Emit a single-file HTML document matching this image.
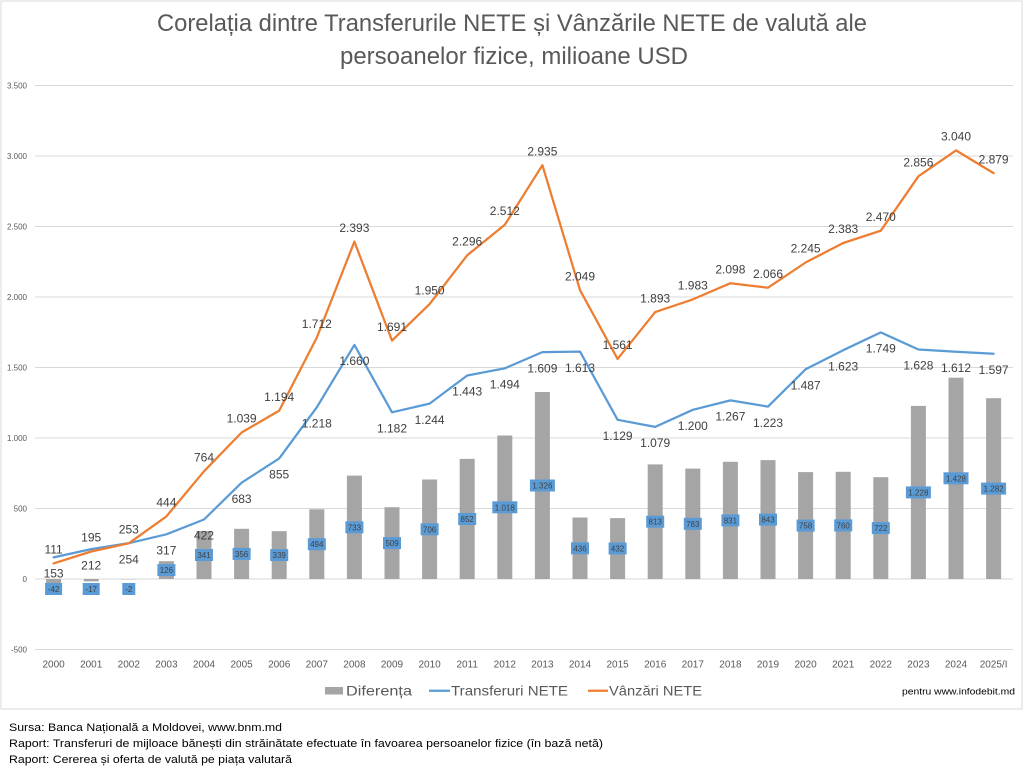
<!DOCTYPE html>
<html>
<head>
<meta charset="utf-8">
<style>
html,body{margin:0;padding:0;background:#fff;}
svg{display:block;}
text{font-family:"Liberation Sans",Arial,sans-serif;}
</style>
</head>
<body>
<svg width="1024" height="772" viewBox="0 0 1024 772" xmlns="http://www.w3.org/2000/svg">
<rect x="0" y="0" width="1024" height="772" fill="#fff"/>
<!-- chart border -->
<rect x="1" y="1" width="1021" height="708" fill="#fff" stroke="#d9d9d9" stroke-width="1"/>

<!-- title -->
<text x="512" y="31" font-size="24" fill="#595959" text-anchor="middle" textLength="710" lengthAdjust="spacingAndGlyphs">Corelația dintre Transferurile NETE și Vânzările NETE de valută ale</text>
<text x="514" y="64" font-size="24" fill="#595959" text-anchor="middle" textLength="348" lengthAdjust="spacingAndGlyphs">persoanelor fizice, milioane USD</text>

<!-- gridlines -->
<g stroke="#d9d9d9" stroke-width="1">
<line x1="35" y1="85.5" x2="1013" y2="85.5"/>
<line x1="35" y1="156" x2="1013" y2="156"/>
<line x1="35" y1="226.5" x2="1013" y2="226.5"/>
<line x1="35" y1="297" x2="1013" y2="297"/>
<line x1="35" y1="367.5" x2="1013" y2="367.5"/>
<line x1="35" y1="438" x2="1013" y2="438"/>
<line x1="35" y1="508.5" x2="1013" y2="508.5"/>
<line x1="35" y1="579" x2="1013" y2="579"/>
<line x1="35" y1="649.5" x2="1013" y2="649.5"/>
</g>

<!-- y axis labels -->
<g font-size="8" fill="#595959" text-anchor="end">
<text x="27" y="88.5">3.500</text>
<text x="27" y="159">3.000</text>
<text x="27" y="229.5">2.500</text>
<text x="27" y="300">2.000</text>
<text x="27" y="370.5">1.500</text>
<text x="27" y="441">1.000</text>
<text x="27" y="511.5">500</text>
<text x="27" y="582">0</text>
<text x="27" y="652.5">-500</text>
</g>

<!-- x axis labels -->
<g font-size="10" fill="#595959" text-anchor="middle">
<text x="53.6" y="667.5">2000</text>
<text x="91.2" y="667.5">2001</text>
<text x="128.8" y="667.5">2002</text>
<text x="166.4" y="667.5">2003</text>
<text x="204.0" y="667.5">2004</text>
<text x="241.6" y="667.5">2005</text>
<text x="279.2" y="667.5">2006</text>
<text x="316.8" y="667.5">2007</text>
<text x="354.4" y="667.5">2008</text>
<text x="392.0" y="667.5">2009</text>
<text x="429.6" y="667.5">2010</text>
<text x="467.2" y="667.5">2011</text>
<text x="504.8" y="667.5">2012</text>
<text x="542.4" y="667.5">2013</text>
<text x="580.0" y="667.5">2014</text>
<text x="617.6" y="667.5">2015</text>
<text x="655.2" y="667.5">2016</text>
<text x="692.8" y="667.5">2017</text>
<text x="730.4" y="667.5">2018</text>
<text x="768.0" y="667.5">2019</text>
<text x="805.6" y="667.5">2020</text>
<text x="843.2" y="667.5">2021</text>
<text x="880.8" y="667.5">2022</text>
<text x="918.4" y="667.5">2023</text>
<text x="956.0" y="667.5">2024</text>
<text x="993.6" y="667.5">2025/I</text>
</g>

<!-- bars -->
<g fill="#a5a5a5">
<rect x="46.1" y="579" width="15" height="5.9"/>
<rect x="83.7" y="579" width="15" height="2.4"/>
<rect x="121.3" y="579" width="15" height="0.3"/>
<rect x="158.9" y="561.2" width="15" height="17.8"/>
<rect x="196.5" y="530.9" width="15" height="48.1"/>
<rect x="234.1" y="528.8" width="15" height="50.2"/>
<rect x="271.7" y="531.2" width="15" height="47.8"/>
<rect x="309.3" y="509.3" width="15" height="69.7"/>
<rect x="346.9" y="475.6" width="15" height="103.4"/>
<rect x="384.5" y="507.2" width="15" height="71.8"/>
<rect x="422.1" y="479.5" width="15" height="99.5"/>
<rect x="459.7" y="458.9" width="15" height="120.1"/>
<rect x="497.3" y="435.5" width="15" height="143.5"/>
<rect x="534.9" y="392.0" width="15" height="187.0"/>
<rect x="572.5" y="517.5" width="15" height="61.5"/>
<rect x="610.1" y="518.1" width="15" height="60.9"/>
<rect x="647.7" y="464.4" width="15" height="114.6"/>
<rect x="685.3" y="468.6" width="15" height="110.4"/>
<rect x="722.9" y="461.8" width="15" height="117.2"/>
<rect x="760.5" y="460.1" width="15" height="118.9"/>
<rect x="798.1" y="472.1" width="15" height="106.9"/>
<rect x="835.7" y="471.8" width="15" height="107.2"/>
<rect x="873.3" y="477.2" width="15" height="101.8"/>
<rect x="910.9" y="405.9" width="15" height="173.1"/>
<rect x="948.5" y="377.7" width="15" height="201.3"/>
<rect x="986.1" y="398.2" width="15" height="180.8"/>
</g>

<!-- lines -->
<polyline fill="none" stroke="#5b9bd5" stroke-width="2.25" stroke-linejoin="round" stroke-linecap="round" points="53.6,557.4 91.2,549.1 128.8,543.2 166.4,534.3 204.0,519.5 241.6,482.7 279.2,458.4 316.8,407.3 354.4,344.9 392.0,412.3 429.6,403.6 467.2,375.5 504.8,368.3 542.4,352.1 580.0,351.6 617.6,419.8 655.2,426.9 692.8,409.8 730.4,400.4 768.0,406.6 805.6,369.3 843.2,350.2 880.8,332.4 918.4,349.5 956.0,351.7 993.6,353.8"/>
<polyline fill="none" stroke="#ed7d31" stroke-width="2.25" stroke-linejoin="round" stroke-linecap="round" points="53.6,563.4 91.2,551.5 128.8,543.3 166.4,516.4 204.0,471.3 241.6,432.5 279.2,410.6 316.8,337.6 354.4,241.6 392.0,340.6 429.6,304.1 467.2,255.3 504.8,224.8 542.4,165.2 580.0,290.1 617.6,358.9 655.2,312.1 692.8,299.4 730.4,283.2 768.0,287.7 805.6,262.5 843.2,243.0 880.8,230.7 918.4,176.3 956.0,150.4 993.6,173.1"/>

<!-- bar label boxes -->
<g fill="#5b9bd5">
<rect x="45.1" y="583" width="17" height="12"/>
<rect x="82.7" y="583" width="17" height="12"/>
<rect x="122.3" y="583" width="13" height="12"/>
<rect x="157.4" y="564.1" width="18" height="12"/>
<rect x="195.0" y="549.0" width="18" height="12"/>
<rect x="232.6" y="547.9" width="18" height="12"/>
<rect x="270.2" y="549.1" width="18" height="12"/>
<rect x="307.8" y="538.2" width="18" height="12"/>
<rect x="345.4" y="521.3" width="18" height="12"/>
<rect x="383.0" y="537.1" width="18" height="12"/>
<rect x="420.6" y="523.3" width="18" height="12"/>
<rect x="458.2" y="513.0" width="18" height="12"/>
<rect x="492.3" y="501.3" width="25" height="12"/>
<rect x="529.9" y="479.5" width="25" height="12"/>
<rect x="571.0" y="542.3" width="18" height="12"/>
<rect x="608.6" y="542.5" width="18" height="12"/>
<rect x="646.2" y="515.7" width="18" height="12"/>
<rect x="683.8" y="517.8" width="18" height="12"/>
<rect x="721.4" y="514.4" width="18" height="12"/>
<rect x="759.0" y="513.6" width="18" height="12"/>
<rect x="796.6" y="519.6" width="18" height="12"/>
<rect x="834.2" y="519.4" width="18" height="12"/>
<rect x="871.8" y="522.1" width="18" height="12"/>
<rect x="905.9" y="486.4" width="25" height="12"/>
<rect x="943.5" y="472.3" width="25" height="12"/>
<rect x="981.1" y="482.6" width="25" height="12"/>
</g>
<g font-size="8" fill="#404040" text-anchor="middle">
<text x="53.6" y="592">-42</text>
<text x="91.2" y="592">-17</text>
<text x="128.8" y="592">-2</text>
<text x="166.4" y="573.1">126</text>
<text x="204.0" y="558">341</text>
<text x="241.6" y="556.9">356</text>
<text x="279.2" y="558.1">339</text>
<text x="316.8" y="547.2">494</text>
<text x="354.4" y="530.3">733</text>
<text x="392.0" y="546.1">509</text>
<text x="429.6" y="532.3">706</text>
<text x="467.2" y="522">852</text>
<text x="504.8" y="510.3">1.018</text>
<text x="542.4" y="488.5">1.326</text>
<text x="580.0" y="551.3">436</text>
<text x="617.6" y="551.5">432</text>
<text x="655.2" y="524.7">813</text>
<text x="692.8" y="526.8">783</text>
<text x="730.4" y="523.4">831</text>
<text x="768.0" y="522.6">843</text>
<text x="805.6" y="528.6">758</text>
<text x="843.2" y="528.4">760</text>
<text x="880.8" y="531.1">722</text>
<text x="918.4" y="495.4">1.228</text>
<text x="956.0" y="481.3">1.428</text>
<text x="993.6" y="491.6">1.282</text>
</g>

<!-- orange labels -->
<g font-size="12" fill="#404040" text-anchor="middle">
<text x="53.6" y="553.6">111</text>
<text x="91.2" y="541.7">195</text>
<text x="128.8" y="533.5">253</text>
<text x="166.4" y="506.6">444</text>
<text x="204.0" y="461.5">764</text>
<text x="241.6" y="422.7">1.039</text>
<text x="279.2" y="400.8">1.194</text>
<text x="316.8" y="327.8">1.712</text>
<text x="354.4" y="231.8">2.393</text>
<text x="392.0" y="330.8">1.691</text>
<text x="429.6" y="294.3">1.950</text>
<text x="467.2" y="245.5">2.296</text>
<text x="504.8" y="215.0">2.512</text>
<text x="542.4" y="155.4">2.935</text>
<text x="580.0" y="280.3">2.049</text>
<text x="617.6" y="349.1">1.561</text>
<text x="655.2" y="302.3">1.893</text>
<text x="692.8" y="289.6">1.983</text>
<text x="730.4" y="273.4">2.098</text>
<text x="768.0" y="277.9">2.066</text>
<text x="805.6" y="252.7">2.245</text>
<text x="843.2" y="233.2">2.383</text>
<text x="880.8" y="220.9">2.470</text>
<text x="918.4" y="166.5">2.856</text>
<text x="956.0" y="140.6">3.040</text>
<text x="993.6" y="163.3">2.879</text>
</g>

<!-- blue labels -->
<g font-size="12" fill="#404040" text-anchor="middle">
<text x="53.6" y="577.6">153</text>
<text x="91.2" y="569.3">212</text>
<text x="128.8" y="563.4">254</text>
<text x="166.4" y="554.5">317</text>
<text x="204.0" y="539.7">422</text>
<text x="241.6" y="502.9">683</text>
<text x="279.2" y="478.6">855</text>
<text x="316.8" y="427.5">1.218</text>
<text x="354.4" y="365.1">1.660</text>
<text x="392.0" y="432.5">1.182</text>
<text x="429.6" y="423.8">1.244</text>
<text x="467.2" y="395.7">1.443</text>
<text x="504.8" y="388.5">1.494</text>
<text x="542.4" y="372.3">1.609</text>
<text x="580.0" y="371.8">1.613</text>
<text x="617.6" y="440.0">1.129</text>
<text x="655.2" y="447.1">1.079</text>
<text x="692.8" y="430.0">1.200</text>
<text x="730.4" y="420.6">1.267</text>
<text x="768.0" y="426.8">1.223</text>
<text x="805.6" y="389.5">1.487</text>
<text x="843.2" y="370.4">1.623</text>
<text x="880.8" y="352.6">1.749</text>
<text x="918.4" y="369.7">1.628</text>
<text x="956.0" y="371.9">1.612</text>
<text x="993.6" y="374.0">1.597</text>
</g>

<!-- legend -->
<rect x="325" y="687" width="18" height="7.5" fill="#a5a5a5"/>
<text x="346" y="695.7" font-size="14" fill="#595959" textLength="66" lengthAdjust="spacingAndGlyphs">Diferența</text>
<line x1="429" y1="690.7" x2="450" y2="690.7" stroke="#5b9bd5" stroke-width="2.25"/>
<text x="451" y="695.7" font-size="14" fill="#595959" textLength="117" lengthAdjust="spacingAndGlyphs">Transferuri NETE</text>
<line x1="588" y1="690.7" x2="608" y2="690.7" stroke="#ed7d31" stroke-width="2.25"/>
<text x="609" y="695.7" font-size="14" fill="#595959" textLength="93" lengthAdjust="spacingAndGlyphs">Vânzări NETE</text>
<text x="902" y="694.5" font-size="9.5" fill="#000" textLength="113" lengthAdjust="spacingAndGlyphs">pentru www.infodebit.md</text>

<!-- footer -->
<g font-size="11" fill="#000">
<text x="9" y="731" textLength="273" lengthAdjust="spacingAndGlyphs">Sursa: Banca Națională a Moldovei, www.bnm.md</text>
<text x="9" y="747" textLength="594" lengthAdjust="spacingAndGlyphs">Raport: Transferuri de mijloace bănești din străinătate efectuate în favoarea persoanelor fizice (în bază netă)</text>
<text x="9" y="763" textLength="283" lengthAdjust="spacingAndGlyphs">Raport: Cererea și oferta de valută pe piața valutară</text>
</g>
</svg>
</body>
</html>
